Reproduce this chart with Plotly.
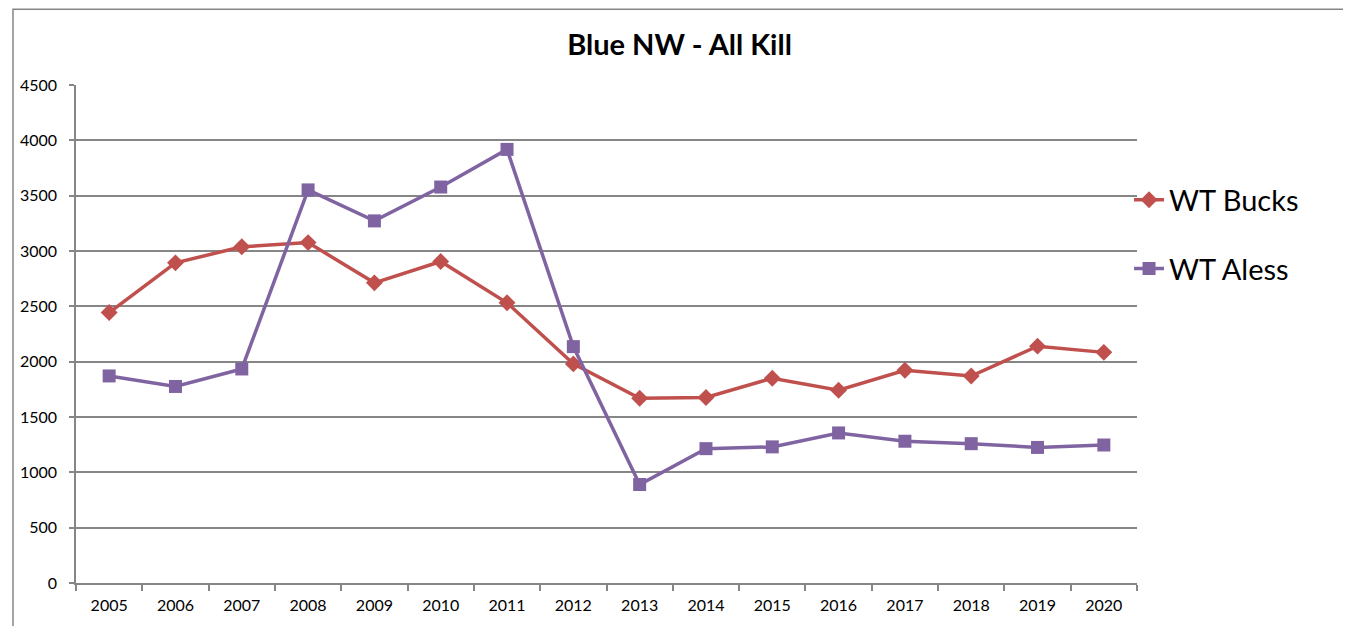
import plotly.graph_objects as go

# -------------------------------------------------------
# Datos
# -------------------------------------------------------
anios = ["2005", "2006", "2007", "2008", "2009", "2010", "2011", "2012",
         "2013", "2014", "2015", "2016", "2017", "2018", "2019", "2020"]

wt_bucks = [2444, 2893, 3038, 3076, 2712, 2905, 2532, 1980,
            1670, 1676, 1850, 1742, 1922, 1870, 2140, 2084]

wt_aless = [1871, 1776, 1934, 3552, 3272, 3578, 3918, 2136,
            890, 1214, 1230, 1356, 1281, 1259, 1225, 1247]

y_ticks = [0, 500, 1000, 1500, 2000, 2500, 3000, 3500, 4000, 4500]

GRIS = "#868686"
FUENTE = "Lato"

# la página deja 8 px de margen, por eso la figura es algo menor
ANCHO, ALTO = 1343, 618
M_IZQ, M_SUP, M_DER, M_INF = 64, 77, 214, 40
ANCHO_PLOT = ANCHO - M_IZQ - M_DER
ALTO_PLOT = ALTO - M_SUP - M_INF

fig = go.Figure()

fig.add_trace(go.Scatter(
    x=anios, y=wt_bucks, name="WT Bucks", mode="lines+markers",
    line=dict(color="#C0504D", width=3.5),
    marker=dict(symbol="diamond", size=13, color="#C0504D"),
    legendgroup="a",
))
fig.add_trace(go.Scatter(
    x=anios, y=wt_aless, name="WT Aless", mode="lines+markers",
    line=dict(color="#8064A2", width=3.5),
    marker=dict(symbol="square", size=13, color="#8064A2"),
    legendgroup="b",
))

fig.update_layout(
    width=ANCHO, height=ALTO,
    margin=dict(l=M_IZQ, r=M_DER, t=M_SUP, b=M_INF),
    paper_bgcolor="white", plot_bgcolor="white",
    font=dict(family=FUENTE, color="#000000"),
    title=dict(text="<b>Blue NW - All Kill</b>", x=671.5 / ANCHO, xanchor="center",
               xref="container", yref="container", y=1 - 37 / ALTO, yanchor="middle",
               font=dict(size=29, family=FUENTE, color="#000000")),
    legend=dict(x=(1121 - M_IZQ) / ANCHO_PLOT, xanchor="left",
                y=(M_SUP + ALTO_PLOT - 167) / ALTO_PLOT, yanchor="top",
                font=dict(size=29, family=FUENTE), tracegroupgap=28,
                traceorder="grouped", bgcolor="rgba(0,0,0,0)"),
    showlegend=True,
)

fig.update_xaxes(
    type="category", range=[-0.5, 15.5],
    showline=True, linecolor=GRIS, linewidth=1.5,
    ticks="outside", tickson="boundaries", ticklen=6, tickcolor=GRIS, tickwidth=1.5,
    showgrid=False, tickfont=dict(size=16, family=FUENTE, color="#000000"),
    ticklabelstandoff=7,
)
fig.update_yaxes(
    range=[0, 4500], tickvals=y_ticks,
    showline=True, linecolor=GRIS, linewidth=1.5,
    ticks="outside", ticklen=5, tickcolor=GRIS, tickwidth=1.5,
    showgrid=True, gridcolor=GRIS, gridwidth=1.5, zeroline=False,
    tickfont=dict(size=16, family=FUENTE, color="#000000"),
    ticklabelstandoff=9,
)

# borde exterior del gráfico
fig.add_shape(type="rect", xref="paper", yref="paper",
              x0=(0.75 - M_IZQ) / ANCHO_PLOT, x1=(ANCHO - 1 - M_IZQ) / ANCHO_PLOT,
              y0=-0.2, y1=(ALTO_PLOT + M_SUP - 0.75) / ALTO_PLOT,
              line=dict(color=GRIS, width=1.5), layer="below")

fig.write_html("out.html")
